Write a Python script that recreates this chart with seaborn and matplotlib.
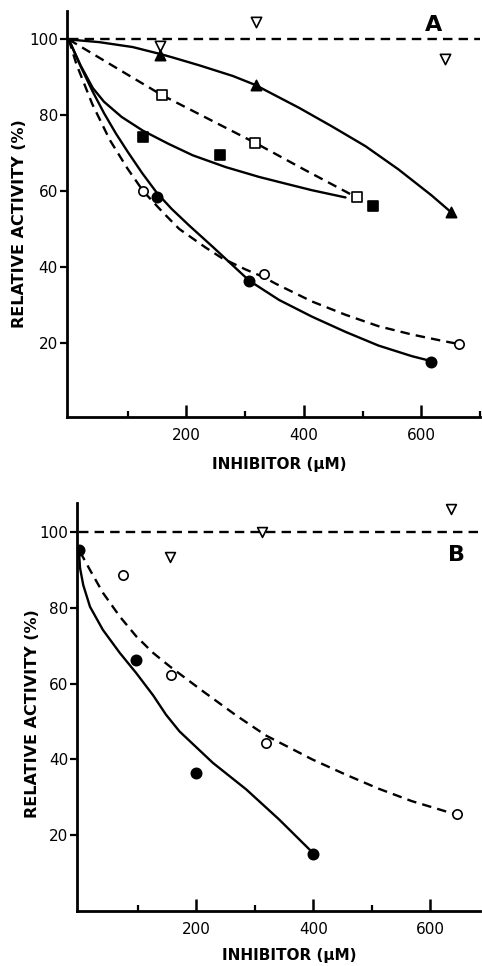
import numpy as np
import pandas as pd
import matplotlib
matplotlib.use("Agg")
import matplotlib.pyplot as plt
import seaborn as sns

# ---- Panel A: measured points ----
a_tri_open_x = [155, 318, 640]
a_tri_open_y = [98.4, 104.7, 94.8]
a_tri_fill_x = [155, 318, 650]
a_tri_fill_y = [95.8, 88.0, 54.6]
a_sq_open_x = [158, 317, 490]
a_sq_open_y = [85.4, 72.8, 58.4]
a_sq_fill_x = [127, 257, 517]
a_sq_fill_y = [74.4, 69.7, 56.1]
a_circ_open_x = [127, 332, 664]
a_circ_open_y = [60.0, 38.3, 19.8]
a_circ_fill_x = [150, 307, 617]
a_circ_fill_y = [58.6, 36.5, 15.1]

# ---- Panel A: hand-drawn curves ----
a_ctrl_x = [0, 700]
a_ctrl_y = [100, 100]
a_tri_curve_x = [0, 52, 109, 155, 176, 222, 279, 318, 335, 392, 448, 505, 561, 617, 650]
a_tri_curve_y = [100, 99.3, 98.0, 96.2, 95.3, 93.2, 90.4, 88.0, 86.6, 82.0, 77.1, 71.9, 65.8, 59.0, 54.6]
a_sq_open_curve_x = [0, 80, 158, 240, 317, 400, 490]
a_sq_open_curve_y = [100, 92.6, 85.4, 78.9, 72.8, 65.8, 58.4]
a_sq_fill_curve_x = [0, 20, 41, 60, 90, 126, 170, 211, 267, 324, 370, 414, 471]
a_sq_fill_curve_y = [100, 93.2, 87.2, 83.6, 79.6, 76.0, 72.5, 69.5, 66.4, 63.8, 62.0, 60.3, 58.4]
a_circ_fill_curve_x = [0, 20, 40, 60, 80, 100, 125, 150, 175, 205, 245, 307, 358, 414, 471, 527, 584, 617]
a_circ_fill_curve_y = [100, 93.0, 86.5, 80.6, 75.3, 70.5, 64.8, 59.6, 55.4, 51.0, 45.4, 36.5, 31.4, 27.0, 23.0, 19.4, 16.6, 15.3]
a_circ_open_curve_x = [0, 13, 40, 70, 100, 127, 160, 188, 233, 261, 300, 332, 352, 414, 471, 527, 584, 640, 664]
a_circ_open_curve_y = [100, 93.5, 83.0, 73.5, 66.0, 60.0, 54.5, 50.1, 45.2, 42.4, 39.5, 37.4, 35.7, 31.0, 27.5, 24.5, 22.3, 20.5, 19.8]

# ---- Panel B: measured points ----
b_tri_open_x = [155, 312, 635]
b_tri_open_y = [93.5, 100.0, 106.0]
b_circ_open_x = [74, 157, 319, 646]
b_circ_open_y = [88.7, 62.4, 44.3, 25.6]
b_circ_fill_x = [0, 97, 200, 400]
b_circ_fill_y = [95.3, 66.3, 36.3, 15.0]

# ---- Panel B: curves ----
b_ctrl_x = [0, 690]
b_ctrl_y = [100, 100]
b_circ_fill_curve_x = [-1, 1, 6.5, 18, 40, 69, 97, 126, 148, 171, 228, 285, 341, 398]
b_circ_fill_curve_y = [95.3, 90.5, 86.0, 80.3, 74.2, 68.1, 62.8, 56.9, 51.8, 47.4, 39.1, 32.1, 24.2, 15.5]
b_circ_open_curve_x = [1, 18, 40, 69, 97, 126, 154, 211, 268, 319, 398, 455, 511, 568, 643]
b_circ_open_curve_y = [94.8, 90.0, 84.0, 77.7, 72.5, 68.1, 64.6, 58.0, 51.6, 46.3, 40.0, 36.0, 32.3, 29.0, 25.5]

y_ticks = [20, 40, 60, 80, 100]
x_major = [200, 400, 600]

sns.set_theme(style="white")
plt.rcParams["font.family"] = ["DejaVu Sans"]
plt.rcParams["text.color"] = "black"

DASH = (4.0, 2.6)
LW = 1.7


def curve(ax, xs, ys, dashed):
    df = pd.DataFrame({"x": xs, "y": ys})
    sns.lineplot(data=df, x="x", y="y", ax=ax, color="black", lw=LW,
                 sort=False, estimator=None, zorder=2)
    line = ax.lines[-1]
    line.set_solid_joinstyle("round")
    if dashed:
        line.set_dashes(DASH)


def points(ax, xs, ys, marker, filled, size):
    df = pd.DataFrame({"x": xs, "y": ys})
    sns.scatterplot(data=df, x="x", y="y", ax=ax, marker=marker,
                    color="black" if filled else "white", edgecolor="black",
                    linewidth=1.2, s=size, zorder=3)


def style_axes(ax, xlim, ylim, xminor):
    ax.set_xlim(*xlim)
    ax.set_ylim(*ylim)
    for s in ["top", "right"]:
        ax.spines[s].set_visible(False)
    for s in ["left", "bottom"]:
        ax.spines[s].set_linewidth(2.0)
        ax.spines[s].set_color("black")
    ax.set_yticks(y_ticks)
    ax.set_xticks(x_major)
    ax.set_xticks(xminor, minor=True)
    ax.tick_params(axis="y", direction="out", length=5, width=1.6, pad=1.5,
                   labelsize=11, left=True, colors="black")
    ax.tick_params(axis="x", which="major", direction="in", length=9, width=1.8,
                   pad=8, labelsize=11, bottom=True, colors="black")
    ax.tick_params(axis="x", which="minor", direction="in", length=4, width=1.6,
                   bottom=True, colors="black")
    ax.grid(False)
    ax.set_xlabel("INHIBITOR (μM)", fontsize=11, fontweight="bold", color="black")
    ax.set_ylabel("RELATIVE ACTIVITY (%)", fontsize=11.5, fontweight="bold", color="black")


fig = plt.figure(figsize=(4.82, 9.66), dpi=100)
axA = fig.add_axes([0.139, 0.568, 0.857, 0.421])
axB = fig.add_axes([0.160, 0.057, 0.836, 0.422])

# panel A
curve(axA, a_ctrl_x, a_ctrl_y, True)
curve(axA, a_tri_curve_x, a_tri_curve_y, False)
curve(axA, a_sq_open_curve_x, a_sq_open_curve_y, True)
curve(axA, a_sq_fill_curve_x, a_sq_fill_curve_y, False)
curve(axA, a_circ_fill_curve_x, a_circ_fill_curve_y, False)
curve(axA, a_circ_open_curve_x, a_circ_open_curve_y, True)
points(axA, a_tri_open_x, a_tri_open_y, "v", False, 55)
points(axA, a_tri_fill_x, a_tri_fill_y, "^", True, 55)
points(axA, a_sq_open_x, a_sq_open_y, "s", False, 45)
points(axA, a_sq_fill_x, a_sq_fill_y, "s", True, 50)
points(axA, a_circ_open_x, a_circ_open_y, "o", False, 45)
points(axA, a_circ_fill_x, a_circ_fill_y, "o", True, 55)
style_axes(axA, (-3, 697), (0.5, 107.6), [100, 300, 500, 700])
axA.text(620, 103.7, "A", fontsize=16, fontweight="bold", color="black",
         ha="center", va="center")
axA.yaxis.set_label_coords(-0.097, 0.477)
axA.xaxis.set_label_coords(0.513, -0.098)

# panel B
curve(axB, b_ctrl_x, b_ctrl_y, True)
curve(axB, b_circ_fill_curve_x, b_circ_fill_curve_y, False)
curve(axB, b_circ_open_curve_x, b_circ_open_curve_y, True)
points(axB, b_tri_open_x, b_tri_open_y, "v", False, 50)
points(axB, b_circ_open_x, b_circ_open_y, "o", False, 45)
points(axB, b_circ_fill_x, b_circ_fill_y, "o", True, 55)
style_axes(axB, (-4, 685), (0, 107.6), [100, 300, 500])
axB.text(644, 94, "B", fontsize=16, fontweight="bold", color="black",
         ha="center", va="center")
axB.yaxis.set_label_coords(-0.091, 0.483)
axB.xaxis.set_label_coords(0.526, -0.092)

fig.savefig("out.png", dpi=100)
